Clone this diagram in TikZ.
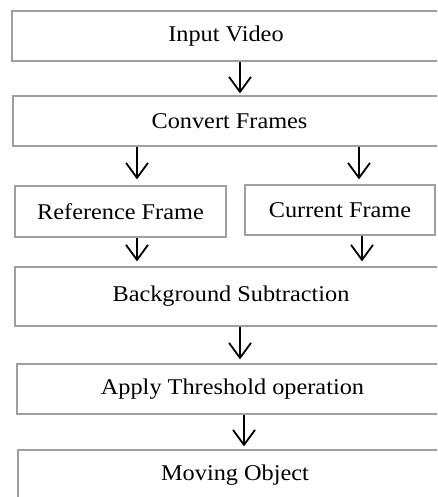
\documentclass[tikz,border=0pt]{standalone}
\usepackage{fontspec}
\setmainfont{Liberation Serif}[FakeStretch=1.08]
\usetikzlibrary{arrows.meta}

\begin{document}
\begin{tikzpicture}[x=1pt,y=-1pt,
    stage/.style={draw=gray!75,line width=1.2pt,rectangle,inner sep=0pt,
      font=\fontsize{22.5}{27}\selectfont},
    flow/.style={draw=black,line width=1.8pt,
      -{Straight Barb[length=15pt,width=22pt,line width=1.8pt]}}]

      \clip (0,0) rectangle (437,497);
      \fill[white] (0,0) rectangle (437,497);

      % steps of the method
      \node[stage,minimum width=428,minimum height=50] (input) at (226,36)    {Input Video};
      \node[stage,minimum width=433,minimum height=50] (conv)  at (229.5,121) {Convert Frames};
      \node[stage,minimum width=211,minimum height=51] (ref)   at (120.5,211.5) {Reference Frame};
      \node[stage,minimum width=190,minimum height=50] (cur)   at (340,210)   {Current Frame};
      \node[stage,minimum width=432,minimum height=59] (bgsub) at (231,296.5) {Background Subtraction};
      \node[stage,minimum width=431,minimum height=50] (thr)   at (232.5,389) {Apply Threshold operation};
      \node[stage,minimum width=434,minimum height=50] (moving) at (235,475)  {Moving Object};

      % arrows between the steps
      \draw[flow,shorten >=2pt] ([xshift=14pt]input.south) -- ([xshift=14pt]input.south |- conv.north);
      \draw[flow,shorten >=6pt] ([xshift=16.5pt]ref.north |- conv.south) -- ([xshift=16.5pt]ref.north);
      \draw[flow,shorten >=5pt] ([xshift=19pt]cur.north |- conv.south) -- ([xshift=19pt]cur.north);
      \draw[flow,shorten >=5pt] ([xshift=16.5pt]ref.south) -- ([xshift=16.5pt]ref.south |- bgsub.north);
      \draw[flow,shorten >=5pt] ([xshift=22pt]cur.south) -- ([xshift=22pt]cur.south |- bgsub.north);
      \draw[flow,shorten >=4pt] ([xshift=9pt]bgsub.south) -- ([xshift=9pt]bgsub.south |- thr.north);
      \draw[flow,shorten >=3pt] ([xshift=11.5pt]thr.south) -- ([xshift=11.5pt]thr.south |- moving.north);

    \end{tikzpicture}
\end{document}
